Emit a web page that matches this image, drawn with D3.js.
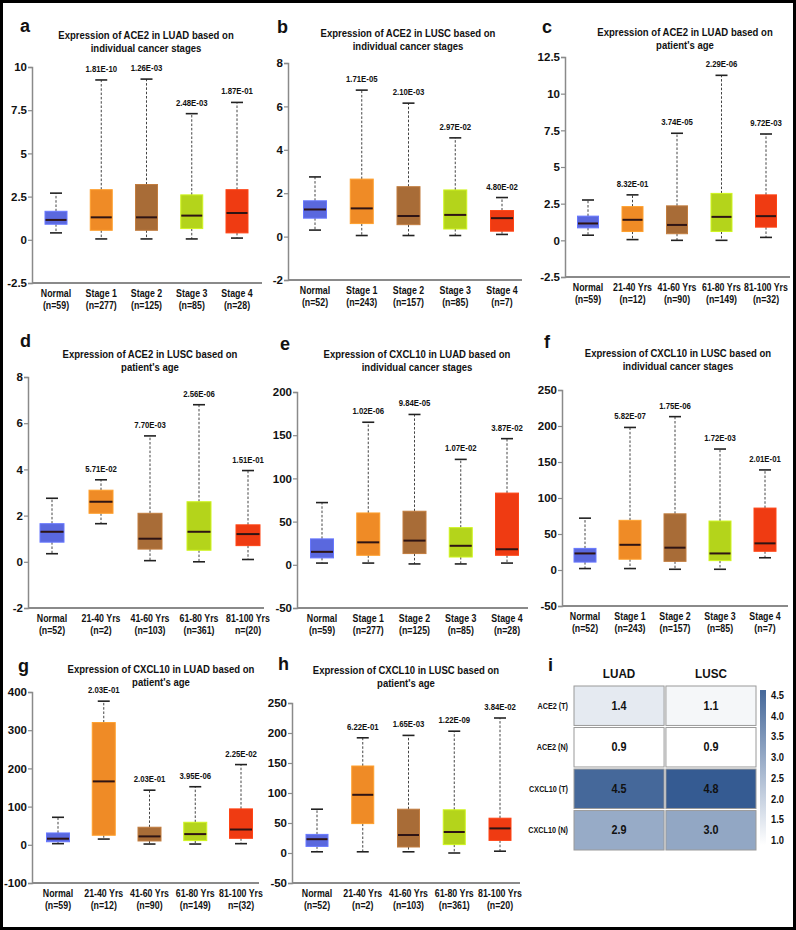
<!DOCTYPE html>
<html><head><meta charset="utf-8">
<script src="https://cdn.jsdelivr.net/npm/d3@7"></script>
<style>body{margin:0;background:#fff}svg{display:block}text{font-family:"Liberation Sans",Arial,sans-serif;font-weight:bold;fill:#111}</style>
</head><body><svg id="c" width="796" height="930"></svg>
<script>
// ---------- DATA ----------
const stageCats = ["Normal","Stage 1","Stage 2","Stage 3","Stage 4"];
const ageCats = ["Normal","21-40 Yrs","41-60 Yrs","61-80 Yrs","81-100 Yrs"];
const boxColors = ["#5a68de","#ef8b26","#a86c37","#b4d41b","#ef3b12"];

// a: ACE2 LUAD stages
const aN = ["(n=59)","(n=277)","(n=125)","(n=85)","(n=28)"];
const aLow = [0.4,0.05,0.05,0.05,0.1];
const aQ1 = [0.9,0.55,0.55,0.65,0.4];
const aMed = [1.15,1.3,1.3,1.4,1.55];
const aQ3 = [1.65,2.9,3.2,2.6,2.9];
const aHigh = [2.7,9.25,9.3,7.3,7.95];
const aP = ["","1.81E-10","1.26E-03","2.48E-03","1.87E-01"];
const aTicks = [-2.5,0,2.5,5,7.5,10];
// b: ACE2 LUSC stages
const bN = ["(n=52)","(n=243)","(n=157)","(n=85)","(n=7)"];
const bLow = [0.3,0.05,0.05,0.05,0.1];
const bQ1 = [0.85,0.6,0.55,0.35,0.25];
const bMed = [1.25,1.3,0.95,1.0,0.85];
const bQ3 = [1.65,2.65,2.3,2.15,1.2];
const bHigh = [2.75,6.75,6.15,4.55,1.8];
const bP = ["","1.71E-05","2.10E-03","2.97E-02","4.80E-02"];
const bTicks = [-2,0,2,4,6,8];
// c: ACE2 LUAD age
const cN = ["(n=59)","(n=12)","(n=90)","(n=149)","(n=32)"];
const cLow = [0.35,0.05,0.0,0.0,0.2];
const cQ1 = [0.85,0.6,0.45,0.6,0.9];
const cMed = [1.15,1.4,1.05,1.6,1.65];
const cQ3 = [1.65,2.3,2.35,3.2,3.1];
const cHigh = [2.75,3.1,7.3,11.25,7.25];
const cP = ["","8.32E-01","3.74E-05","2.29E-06","9.72E-03"];
const cTicks = [-2.5,0,2.5,5,7.5,10,12.5];
// d: ACE2 LUSC age
const dN = ["(n=52)","(n=2)","(n=103)","(n=361)","n=(20)"];
const dLow = [0.35,1.65,0.05,0.0,0.1];
const dQ1 = [0.85,2.1,0.55,0.5,0.7];
const dMed = [1.3,2.6,1.0,1.3,1.2];
const dQ3 = [1.65,3.1,2.1,2.6,1.6];
const dHigh = [2.75,3.55,5.45,6.8,3.95];
const dP = ["","5.71E-02","7.70E-03","2.56E-06","1.51E-01"];
const dTicks = [-2,0,2,4,6,8];
// e: CXCL10 LUAD stages
const eN = ["(n=59)","(n=277)","(n=125)","(n=85)","(n=28)"];
const eLow = [2,2,1,1,2];
const eQ1 = [8,11,13,9,11];
const eMed = [15,26,28,22,18];
const eQ3 = [30,60,62,43,83];
const eHigh = [72,165,174,122,146];
const eP = ["","1.02E-06","9.84E-05","1.07E-02","3.87E-02"];
const eTicks = [-50,0,50,100,150,200];
// f: CXCL10 LUSC stages
const fN = ["(n=52)","(n=243)","(n=157)","(n=85)","(n=7)"];
const fLow = [2,2,1,1,17];
const fQ1 = [11,15,12,13,26];
const fMed = [23,35,31,23,37];
const fQ3 = [30,69,78,68,86];
const fHigh = [72,198,213,168,139];
const fP = ["","5.82E-07","1.75E-06","1.72E-03","2.01E-01"];
const fTicks = [-50,0,50,100,150,200,250];
// g: CXCL10 LUAD age
const gN = ["(n=59)","(n=12)","(n=90)","(n=149)","n=(32)"];
const gLow = [3,15,2,2,3];
const gQ1 = [8,25,10,11,17];
const gMed = [16,166,22,28,40];
const gQ3 = [31,320,46,59,94];
const gHigh = [72,376,143,152,210];
const gP = ["","2.03E-01","2.03E-01","3.95E-06","2.25E-02"];
const gTicks = [-100,0,100,200,300,400];
// h: CXCL10 LUSC age
const hN = ["(n=52)","(n=2)","(n=103)","(n=361)","(n=20)"];
const hLow = [2,2,2,0,3];
const hQ1 = [11,49,10,14,21];
const hMed = [23,97,30,35,41];
const hQ3 = [31,145,73,72,58];
const hHigh = [73,192,196,203,225];
const hP = ["","6.22E-01","1.65E-03","1.22E-09","3.84E-02"];
const hTicks = [-50,0,50,100,150,200,250];

// i: heatmap
const heatCols = ["LUAD","LUSC"];
const heatRows = ["ACE2 (T)","ACE2 (N)","CXCL10 (T)","CXCL10 (N)"];
const heatLUAD = [1.4,0.9,4.5,2.9];
const heatLUSC = [1.1,0.9,4.8,3.0];
const heatTicks = [1.0,1.5,2.0,2.5,3.0,3.5,4.0,4.5];

// ---------- LAYOUT ----------
const panels = [
 {lab:"a", lx:20, ly:32, t:["Expression of ACE2 in LUAD based on","individual cancer stages"], tx:146, ty:39,
  cats:stageCats, n:aN, low:aLow,q1:aQ1,med:aMed,q3:aQ3,high:aHigh,p:aP,ticks:aTicks,
  ax:32, xr:[56,237], xend:262, dom:[-2.5,10], yr:[283,67], bw:22},
 {lab:"b", lx:277, ly:33, t:["Expression of ACE2 in LUSC based on","individual cancer stages"], tx:408, ty:37,
  cats:stageCats, n:bN, low:bLow,q1:bQ1,med:bMed,q3:bQ3,high:bHigh,p:bP,ticks:bTicks,
  ax:288, xr:[315,502], xend:522, dom:[-2,8], yr:[280,63], bw:23},
 {lab:"c", lx:542, ly:33, t:["Expression of ACE2 in LUAD based on","patient's age"], tx:685, ty:36,
  cats:ageCats, n:cN, low:cLow,q1:cQ1,med:cMed,q3:cQ3,high:cHigh,p:cP,ticks:cTicks,
  ax:565, xr:[588,766], xend:790, dom:[-2.5,12.5], yr:[277,57], bw:21},
 {lab:"d", lx:20, ly:347, t:["Expression of ACE2 in LUSC based on","patient's age"], tx:150, ty:358,
  cats:ageCats, n:dN, low:dLow,q1:dQ1,med:dMed,q3:dQ3,high:dHigh,p:dP,ticks:dTicks,
  ax:28, xr:[52,248], xend:264, dom:[-2,8], yr:[608,377], bw:24},
 {lab:"e", lx:280, ly:350, t:["Expression of CXCL10 in LUAD based on","individual cancer stages"], tx:417, ty:358,
  cats:stageCats, n:eN, low:eLow,q1:eQ1,med:eMed,q3:eQ3,high:eHigh,p:eP,ticks:eTicks,
  ax:297, xr:[322,507], xend:528, dom:[-50,200], yr:[608,392], bw:23},
 {lab:"f", lx:544, ly:348, t:["Expression of CXCL10 in LUSC based on","individual cancer stages"], tx:678, ty:357,
  cats:stageCats, n:fN, low:fLow,q1:fQ1,med:fMed,q3:fQ3,high:fHigh,p:fP,ticks:fTicks,
  ax:562, xr:[585,765], xend:788, dom:[-50,250], yr:[606,390], bw:22},
 {lab:"g", lx:18, ly:672, t:["Expression of CXCL10 in LUAD based on","patient's age"], tx:161, ty:673,
  cats:ageCats, n:gN, low:gLow,q1:gQ1,med:gMed,q3:gQ3,high:gHigh,p:gP,ticks:gTicks,
  ax:32, xr:[58,241], xend:259, dom:[-100,400], yr:[883,692], bw:23},
 {lab:"h", lx:278, ly:670, t:["Expression of CXCL10 in LUSC based on","patient's age"], tx:406, ty:674,
  cats:ageCats, n:hN, low:hLow,q1:hQ1,med:hMed,q3:hQ3,high:hHigh,p:hP,ticks:hTicks,
  ax:292, xr:[317,500], xend:520, dom:[-50,250], yr:[883,703], bw:22}
];

const svg = d3.select("#c");
svg.append("rect").attr("width",796).attr("height",930).attr("fill","#fff");

function ctext(g, x, y, s, size, anchor, sx){
  return g.append("text").attr("transform",`translate(${x},${y}) scale(${sx},1)`)
    .attr("text-anchor",anchor||"middle").attr("font-size",size).text(s);
}

panels.forEach(P=>{
  const g = svg.append("g");
  const y = d3.scaleLinear().domain(P.dom).range(P.yr);
  const x = d3.scalePoint().domain(P.cats).range(P.xr);
  ctext(g, P.lx, P.ly, P.lab, 18, "start", 1);
  ctext(g, P.tx, P.ty, P.t[0], 11.5, "middle", 0.83);
  ctext(g, P.tx, P.ty+12.5, P.t[1], 11.5, "middle", 0.83);
  // y axis
  const yAx = d3.axisLeft(y).tickValues(P.ticks).tickSize(4).tickFormat(d=>String(d));
  const ag = g.append("g").attr("transform",`translate(${P.ax},0)`).call(yAx);
  ag.select(".domain").attr("stroke","#8a8a8a").attr("stroke-width",1.5);
  ag.selectAll(".tick line").attr("stroke","#8a8a8a").attr("stroke-width",1.2);
  ag.selectAll(".tick text").attr("font-size",11.5).attr("fill","#111").attr("x",-5)
    .attr("font-family","Liberation Sans, Arial, sans-serif").attr("font-weight","bold");
  // x axis line
  g.append("line").attr("x1",P.ax).attr("x2",P.xend).attr("y1",y(P.dom[0])).attr("y2",y(P.dom[0]))
    .attr("stroke","#8a8a8a").attr("stroke-width",2);
  // category labels
  P.cats.forEach((c,i)=>{
    ctext(g, x(c), y(P.dom[0])+14, c, 11, "middle", 0.8);
    ctext(g, x(c), y(P.dom[0])+26, P.n[i], 11, "middle", 0.8);
  });
  // boxes
  P.cats.forEach((c,i)=>{
    const cx = x(c), bw = P.bw, cw = 12;
    g.append("line").attr("x1",cx).attr("x2",cx).attr("y1",y(P.q3[i])).attr("y2",y(P.high[i]))
      .attr("stroke","#444").attr("stroke-width",1).attr("stroke-dasharray","2.5,1.8");
    g.append("line").attr("x1",cx).attr("x2",cx).attr("y1",y(P.q1[i])).attr("y2",y(P.low[i]))
      .attr("stroke","#444").attr("stroke-width",1).attr("stroke-dasharray","2.5,1.8");
    g.append("line").attr("x1",cx-cw/2).attr("x2",cx+cw/2).attr("y1",y(P.high[i])).attr("y2",y(P.high[i]))
      .attr("stroke","#222").attr("stroke-width",1.6);
    g.append("line").attr("x1",cx-cw/2).attr("x2",cx+cw/2).attr("y1",y(P.low[i])).attr("y2",y(P.low[i]))
      .attr("stroke","#222").attr("stroke-width",1.6);
    g.append("rect").attr("x",cx-bw/2).attr("width",bw).attr("y",y(P.q3[i]))
      .attr("height",Math.max(1,y(P.q1[i])-y(P.q3[i])))
      .attr("fill",boxColors[i]).attr("stroke",d3.color(boxColors[i]).brighter(0.4)).attr("stroke-width",1);
    g.append("line").attr("x1",cx-bw/2+0.5).attr("x2",cx+bw/2-0.5).attr("y1",y(P.med[i])).attr("y2",y(P.med[i]))
      .attr("stroke","#2e1414").attr("stroke-width",2);
    if(P.p[i]) ctext(g, cx, y(P.high[i])-8, P.p[i], 9.5, "middle", 0.82);
  });
});

// ---------- heatmap i ----------
(function(){
  const g = svg.append("g");
  ctext(g, 548, 671, "i", 18, "start", 1);
  const xb = d3.scaleBand().domain(heatCols).range([574,756]).paddingInner(0.02);
  const yb = d3.scaleBand().domain(heatRows).range([686,850]).paddingInner(0.05);
  const col = d3.scaleLinear().domain([0.9,4.8]).range(["#ffffff","#355b92"]);
  heatCols.forEach(c=>ctext(g, xb(c)+xb.bandwidth()/2, 678, c, 13, "middle", 0.9));
  heatRows.forEach(r=>ctext(g, 568, yb(r)+yb.bandwidth()/2+3, r, 8.5, "end", 0.85));
  const vals = [heatLUAD, heatLUSC];
  heatCols.forEach((c,ci)=>{
    heatRows.forEach((r,ri)=>{
      const v = vals[ci][ri];
      g.append("rect").attr("x",xb(c)).attr("y",yb(r)).attr("width",xb.bandwidth()).attr("height",yb.bandwidth())
        .attr("fill",col(v)).attr("stroke","#9a9a9a").attr("stroke-width",1);
      ctext(g, xb(c)+xb.bandwidth()/2, yb(r)+yb.bandwidth()/2+4, v.toFixed(1), 12, "middle", 0.9);
    });
  });
  // colorbar
  const cy = d3.scaleLinear().domain([1.0,4.5]).range([840,695]);
  const defs = svg.append("defs");
  const lg = defs.append("linearGradient").attr("id","cb").attr("x1",0).attr("y1",1).attr("x2",0).attr("y2",0);
  lg.append("stop").attr("offset","0%").attr("stop-color",col(0.85));
  lg.append("stop").attr("offset","100%").attr("stop-color",col(4.5));
  g.append("rect").attr("x",760).attr("y",cy(4.62)).attr("width",6).attr("height",cy(0.88)-cy(4.62)).attr("fill","url(#cb)");
  heatTicks.forEach(t=>ctext(g, 771, cy(t)+4, t.toFixed(1), 11, "start", 0.85));
})();

// outer frame
svg.append("rect").attr("x",1.5).attr("y",1.5).attr("width",793).attr("height",927)
  .attr("fill","none").attr("stroke","#000").attr("stroke-width",3);
</script></body></html>
